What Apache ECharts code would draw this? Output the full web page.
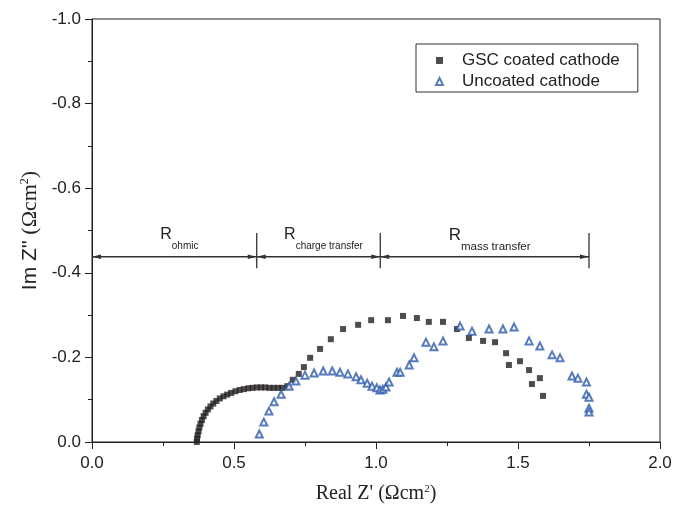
<!DOCTYPE html>
<html>
<head>
<meta charset="utf-8">
<script src="https://cdn.jsdelivr.net/npm/echarts@6/dist/echarts.min.js"></script>
<style>
html,body{margin:0;padding:0;background:#fff;}
#chart{width:678px;height:509px;}
</style>
</head>
<body>
<div id="chart"></div>
<script>
// ---- data ----
const seriesNames = ['GSC coated cathode', 'Uncoated cathode'];

const gscCoated = [
  [0.369,0.000],[0.370,-0.008],[0.372,-0.016],[0.375,-0.025],[0.378,-0.034],[0.382,-0.043],
  [0.387,-0.052],[0.393,-0.061],[0.400,-0.069],[0.408,-0.077],[0.417,-0.084],[0.427,-0.091],
  [0.438,-0.097],[0.450,-0.103],[0.463,-0.108],[0.476,-0.112],[0.490,-0.116],[0.505,-0.120],
  [0.520,-0.123],[0.535,-0.125],[0.550,-0.127],[0.565,-0.128],[0.580,-0.129],[0.595,-0.129],
  [0.610,-0.129],[0.625,-0.128],[0.640,-0.128],[0.655,-0.128],[0.670,-0.128],
  [0.688,-0.132],[0.707,-0.147],[0.728,-0.161],[0.746,-0.177],[0.768,-0.199],[0.803,-0.220],
  [0.841,-0.243],[0.884,-0.267],[0.937,-0.277],[0.983,-0.288],[1.042,-0.288],[1.095,-0.298],
  [1.144,-0.293],[1.186,-0.284],[1.236,-0.284],[1.285,-0.267],[1.327,-0.246],[1.377,-0.239],
  [1.419,-0.236],[1.458,-0.210],[1.468,-0.182],[1.507,-0.191],[1.539,-0.170],[1.549,-0.137],
  [1.577,-0.151],[1.588,-0.109]
];

const uncoated = [
  [0.589,-0.019],[0.605,-0.047],[0.623,-0.073],[0.641,-0.095],[0.666,-0.113],[0.694,-0.132],
  [0.718,-0.144],[0.750,-0.158],[0.782,-0.163],[0.814,-0.168],[0.846,-0.168],[0.873,-0.165],
  [0.901,-0.161],[0.930,-0.154],[0.947,-0.147],[0.969,-0.139],[0.986,-0.132],[1.003,-0.128],
  [1.014,-0.123],[1.024,-0.125],[1.035,-0.130],[1.046,-0.142],[1.074,-0.165],[1.085,-0.165],
  [1.117,-0.182],[1.134,-0.199],[1.176,-0.236],[1.204,-0.225],[1.236,-0.239],[1.296,-0.274],
  [1.338,-0.262],[1.398,-0.267],[1.447,-0.267],[1.486,-0.272],[1.539,-0.239],[1.577,-0.227],
  [1.620,-0.206],[1.648,-0.199],[1.690,-0.156],[1.711,-0.151],[1.741,-0.142],[1.741,-0.113],
  [1.750,-0.106],[1.750,-0.080],[1.750,-0.071]
];

// annotation: resistance segments along Re axis
const annoBounds = [0, 0.58, 1.015, 1.75];
const annoLabels = ['ohmic', 'charge transfer', 'mass transfer'];
const annoY = -0.438;
const annoTickTop = -0.494;
const annoTickBottom = -0.411;

// axes
const xMin = 0, xMax = 2.0, xStep = 0.5;
const yMin = -1.0, yMax = 0, yStep = 0.2;

// ---- styles ----
const SANS = '"Liberation Sans", Arial, sans-serif';
const SERIF = '"Liberation Serif", "Times New Roman", serif';
const INK = '#231f20';
const BLUE = '#2d5bab';
const annoRSize = [16, 16, 17];
const annoSubSize = [10, 10, 11.5];

const segments = [];
for (let i = 0; i < annoLabels.length; i++) {
  segments.push([annoBounds[i], annoBounds[i + 1], i]);
}

function renderAnno(params, api) {
  const a = api.value(0), b = api.value(1), i = api.value(2);
  const p0 = api.coord([a, annoY]);
  const p1 = api.coord([b, annoY]);
  const tTop = api.coord([b, annoTickTop])[1];
  const tBot = api.coord([b, annoTickBottom])[1];
  const L = 9, H = 2.2;
  const col = '#333';
  const children = [
    { type: 'line', shape: { x1: p0[0], y1: p0[1], x2: p1[0], y2: p1[1] }, style: { stroke: col, lineWidth: 1.3 } },
    { type: 'polygon', shape: { points: [[p0[0], p0[1]], [p0[0] + L, p0[1] - H], [p0[0] + L, p0[1] + H]] }, style: { fill: col } },
    { type: 'polygon', shape: { points: [[p1[0], p1[1]], [p1[0] - L, p1[1] - H], [p1[0] - L, p1[1] + H]] }, style: { fill: col } },
    { type: 'line', shape: { x1: p1[0], y1: tTop, x2: p1[0], y2: tBot }, style: { stroke: col, lineWidth: 1.3 } },
    {
      type: 'text',
      x: (p0[0] + p1[0]) / 2 + 5,
      y: p0[1] - 30,
      style: {
        text: '{r|R}{s|' + annoLabels[i] + '}',
        align: 'center',
        verticalAlign: 'top',
        rich: {
          r: { fontSize: annoRSize[i], fontFamily: SANS, lineHeight: 20, verticalAlign: 'top', fill: '#222' },
          s: { fontSize: annoSubSize[i], fontFamily: SANS, lineHeight: 40, verticalAlign: 'middle', fill: '#222' }
        }
      }
    }
  ];
  return { type: 'group', children: children };
}

const chart = echarts.init(document.getElementById('chart'), null, { renderer: 'canvas' });

const fmt = v => (Math.abs(v) < 1e-9 ? 0 : v).toFixed(1);

chart.setOption({
  animation: false,
  backgroundColor: '#fff',
  grid: { left: 92, right: 18, top: 19, bottom: 67, show: true, borderColor: INK, borderWidth: 1, containLabel: false },
  legend: {
    orient: 'vertical',
    left: 416, top: 44,
    data: seriesNames,
    itemWidth: 7, itemHeight: 7, itemGap: 4,
    padding: [8, 18, 2, 19],
    borderColor: '#333', borderWidth: 1,
    formatter: '{t|{name}}',
    textStyle: {
      rich: { t: { fontFamily: SANS, fontSize: 17, color: '#222', lineHeight: 21, padding: [0, 0, 0, 14] } }
    }
  },
  xAxis: {
    type: 'value', min: xMin, max: xMax, interval: xStep,
    name: '{a|Real Z\' (Ωcm}{sup|2}{a|)}',
    nameLocation: 'middle', nameGap: 42,
    nameTextStyle: {
      rich: {
        a: { fontFamily: SERIF, fontSize: 20, color: '#222', lineHeight: 20, verticalAlign: 'middle' },
        sup: { fontFamily: SERIF, fontSize: 11, color: '#222', lineHeight: 6, verticalAlign: 'top' }
      }
    },
    axisLine: { show: true, onZero: false, lineStyle: { color: INK, width: 1 } },
    axisTick: { show: true, inside: false, length: 7, lineStyle: { color: INK } },
    minorTick: { show: true, splitNumber: 2, length: 4, lineStyle: { color: INK } },
    splitLine: { show: false },
    axisLabel: { formatter: fmt, fontFamily: SANS, fontSize: 17, color: '#222', margin: 13 }
  },
  yAxis: {
    type: 'value', min: yMin, max: yMax, interval: yStep, inverse: true,
    name: '{b|Im Z\'\'}{a| (Ωcm}{sup|2}{a|)}',
    nameLocation: 'middle', nameGap: 48, nameRotate: 90,
    nameTextStyle: {
      rich: {
        b: { fontFamily: SANS, fontSize: 21, color: '#222', lineHeight: 22, verticalAlign: 'middle' },
        a: { fontFamily: SERIF, fontSize: 22, color: '#222', lineHeight: 22, verticalAlign: 'middle' },
        sup: { fontFamily: SERIF, fontSize: 12, color: '#222', lineHeight: 6, verticalAlign: 'top' }
      }
    },
    axisLine: { show: true, onZero: false, lineStyle: { color: INK, width: 1 } },
    axisTick: { show: true, inside: false, length: 7, lineStyle: { color: INK } },
    minorTick: { show: true, splitNumber: 2, length: 4, lineStyle: { color: INK } },
    splitLine: { show: false },
    axisLabel: { formatter: fmt, fontFamily: SANS, fontSize: 17, color: '#222', margin: 11 }
  },
  series: [
    {
      name: seriesNames[0], type: 'scatter', data: gscCoated,
      symbol: 'rect', symbolSize: 6,
      itemStyle: { color: INK }
    },
    {
      name: seriesNames[1], type: 'scatter', data: uncoated,
      symbol: 'emptyTriangle', symbolSize: 7,
      itemStyle: { color: BLUE, borderColor: BLUE, borderWidth: 1.1 }
    },
    {
      type: 'custom', data: segments, renderItem: renderAnno, silent: true,
      encode: { x: [0, 1], y: -1 }, z: 5
    }
  ]
});
</script>
</body>
</html>
